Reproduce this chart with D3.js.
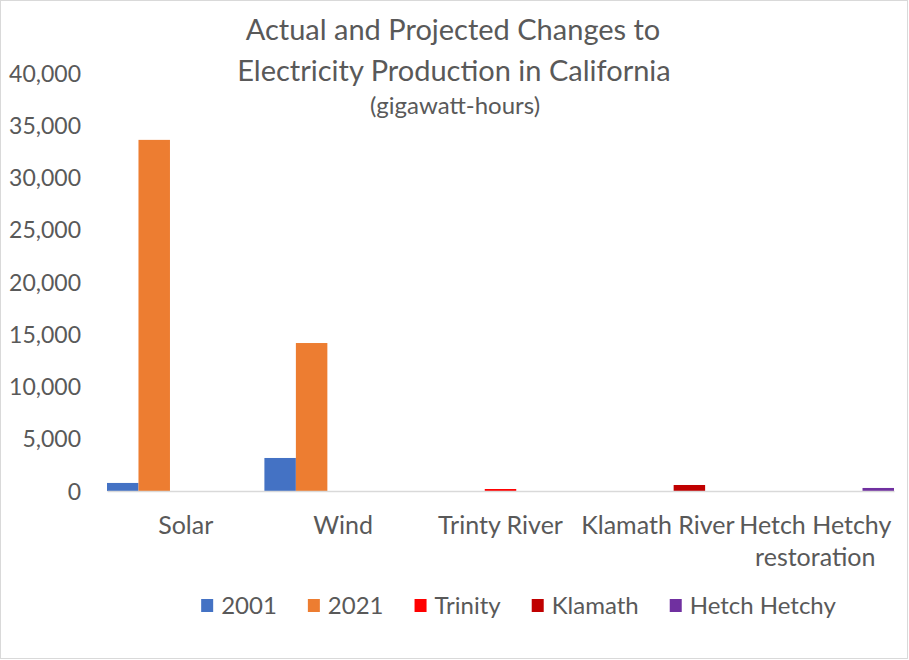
<!DOCTYPE html>
<html>
<head>
<meta charset="utf-8">
<script src="https://cdn.jsdelivr.net/npm/d3@7"></script>
<style>
  html, body { margin: 0; padding: 0; background: #fff; }
  svg { display: block; }
  text { font-family: Lato, "Open Sans", sans-serif; fill: #595959; }
</style>
</head>
<body>
<svg id="chart" width="909" height="660"></svg>
<script>
const categories = ["Solar", "Wind", "Trinty River", "Klamath River", "Hetch Hetchy restoration"];
const categoryLines = [["Solar"], ["Wind"], ["Trinty River"], ["Klamath River"], ["Hetch Hetchy", "restoration"]];
const seriesNames = ["2001", "2021", "Trinity", "Klamath", "Hetch Hetchy"];
const seriesColors = ["#4472C4", "#ED7D31", "#FF0000", "#C00000", "#7030A0"];
const values2001 = [770, 3160, null, null, null];
const values2021 = [33600, 14160, null, null, null];
const valuesTrinity = [null, null, 190, null, null];
const valuesKlamath = [null, null, null, 575, null];
const valuesHetch = [null, null, null, null, 290];
const yTicks = [0, 5000, 10000, 15000, 20000, 25000, 30000, 35000, 40000];
const titleLines = ["Actual and Projected Changes to", "Electricity Production in California"];
const subtitle = "(gigawatt-hours)";

const seriesValues = [values2001, values2021, valuesTrinity, valuesKlamath, valuesHetch];

const svg = d3.select("#chart");
svg.append("rect").attr("x", 0.5).attr("y", 0.5).attr("width", 907).attr("height", 658)
  .attr("fill", "#fff").attr("stroke", "#d9d9d9").attr("stroke-width", 1);

const x = d3.scaleBand().domain(categories).range([107, 894]).padding(0);
const xs = d3.scaleBand().domain(seriesNames).range([0, x.bandwidth()]).padding(0);
const y = d3.scaleLinear().domain([0, 40000]).range([491, 73]);

// Title
svg.append("text").attr("x", 453).attr("y", 40).attr("text-anchor", "middle")
  .style("font-size", "29px").text(titleLines[0]);
svg.append("text").attr("x", 454).attr("y", 81).attr("text-anchor", "middle")
  .style("font-size", "29px").text(titleLines[1]);
svg.append("text").attr("x", 455).attr("y", 114).attr("text-anchor", "middle")
  .style("font-size", "24px").text(subtitle);

// Y axis labels
const yAxis = d3.axisLeft(y).tickValues(yTicks).tickSize(0).tickPadding(0)
  .tickFormat(d3.format(","));
const yg = svg.append("g").attr("transform", "translate(81,0)").call(yAxis);
yg.select(".domain").remove();
yg.selectAll("text").style("font-size", "23px").style("font-family", "Lato, sans-serif")
  .attr("fill", "#595959").attr("dy", "0.35em");

// Bars
seriesNames.forEach((s, si) => {
  const data = categories.map((c, ci) => ({ c, v: seriesValues[si][ci] })).filter(d => d.v != null);
  svg.append("g").selectAll("rect").data(data).join("rect")
    .attr("x", d => x(d.c) + xs(s))
    .attr("width", xs.bandwidth())
    .attr("y", d => y(d.v))
    .attr("height", d => y(0) - y(d.v))
    .attr("fill", seriesColors[si]);
});

// X axis line
const xAxis = d3.axisBottom(x).tickSize(0).tickFormat("");
const xg = svg.append("g").attr("transform", `translate(0,${y(0)})`).call(xAxis);
xg.select(".domain").attr("stroke", "#d9d9d9").attr("stroke-width", 1.5);

// Category labels
categories.forEach((c, i) => {
  const t = svg.append("text").attr("text-anchor", "middle")
    .attr("x", x(c) + x.bandwidth() / 2).attr("y", 534).style("font-size", "25px");
  categoryLines[i].forEach((line, li) => {
    t.append("tspan").attr("x", x(c) + x.bandwidth() / 2).attr("dy", li === 0 ? 0 : 32).text(line);
  });
});

// Legend
const legend = svg.append("g");
let cx = 0;
const gap = 31, textOff = 20;
seriesNames.forEach((s, i) => {
  const g = legend.append("g");
  g.append("rect").attr("x", 0).attr("y", 599).attr("width", 12).attr("height", 13).attr("fill", seriesColors[i]);
  const t = g.append("text").attr("x", textOff).attr("y", 614).style("font-size", "24px").text(s);
  const w = t.node().getComputedTextLength();
  g.attr("transform", `translate(${cx},0)`);
  cx += textOff + w + gap;
});
const totalW = cx - gap;
legend.attr("transform", `translate(${518.5 - totalW / 2},0)`);
</script>
</body>
</html>
